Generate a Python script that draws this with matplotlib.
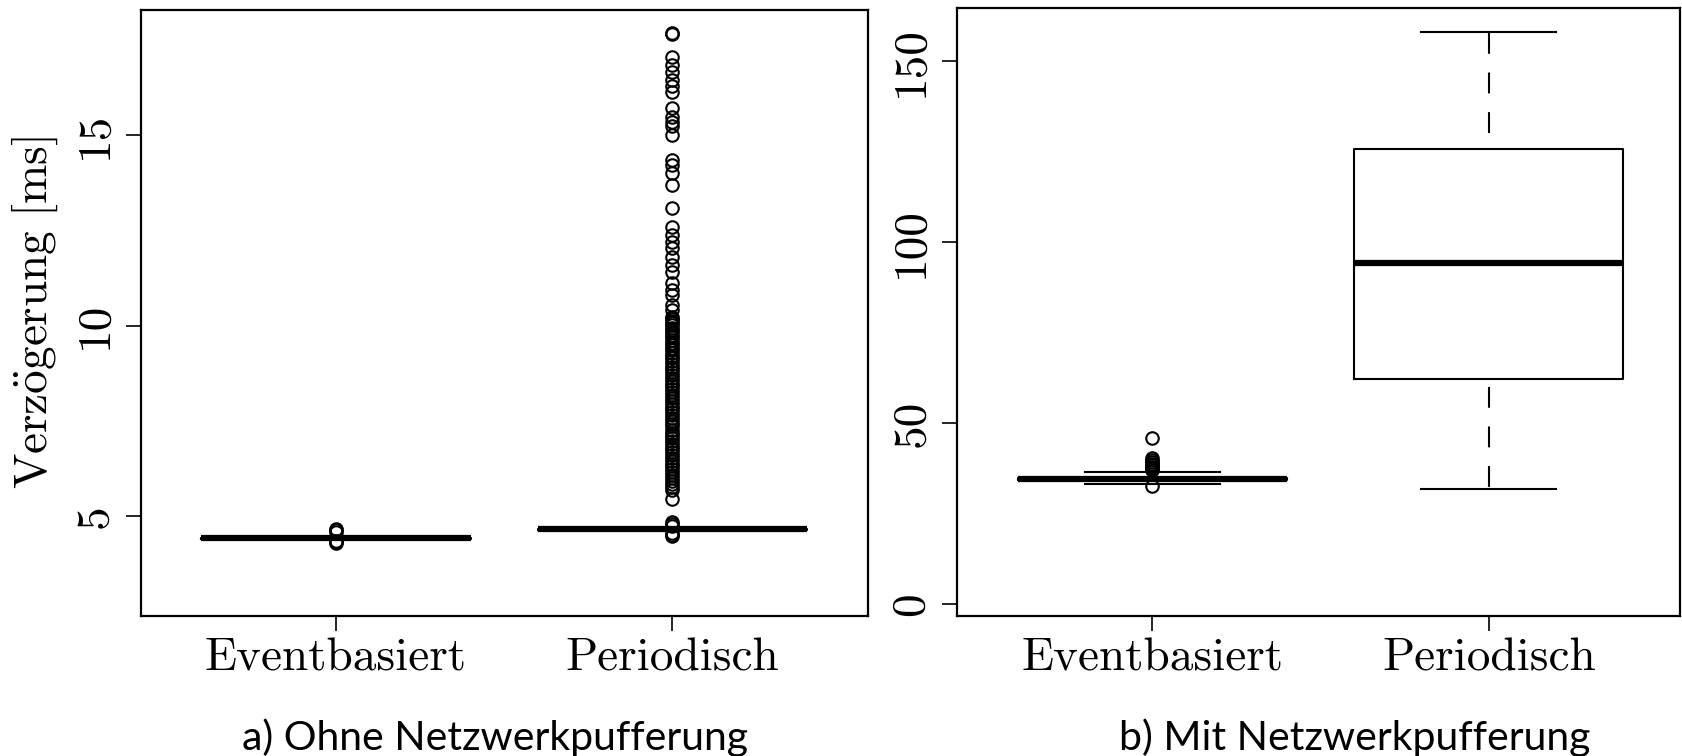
import matplotlib
matplotlib.use("Agg")
import matplotlib.pyplot as plt

plt.rcParams['font.family'] = ['cmr10', 'DejaVu Serif']
plt.rcParams['mathtext.fontset'] = 'cm'
plt.rcParams['axes.unicode_minus'] = False

#####################################

groups = ["Eventbasiert", "Periodisch"]

# a) Ohne Netzwerkpufferung  [ms]
a_med = [4.41, 4.65]
a_q1 = [4.40, 4.64]
a_q3 = [4.42, 4.66]
a_lo = [4.38, 4.62]
a_hi = [4.44, 4.68]
a_fliers_event = [4.66, 4.62, 4.57, 4.35, 4.32, 4.30]
a_fliers_period = [
    17.70, 17.66, 17.06, 16.84, 16.67, 16.45, 16.29, 16.14, 15.73, 15.49,
    15.35, 15.24, 15.00, 14.35, 14.22, 14.00, 13.69, 13.08, 12.60, 12.38,
    12.20, 12.03, 11.81, 11.59, 11.42, 11.11, 10.93, 10.80, 10.54, 10.41,
    10.23, 10.18, 10.12, 10.06, 10.01, 9.95, 9.88, 9.82, 9.76, 9.70,
    9.63, 9.55, 9.49, 9.42, 9.36, 9.28, 9.21, 9.14, 9.06, 8.98,
    8.92, 8.85, 8.77, 8.70, 8.62, 8.55, 8.47, 8.40, 8.33, 8.26,
    8.18, 8.10, 8.03, 7.95, 7.87, 7.80, 7.72, 7.64, 7.57, 7.50,
    7.42, 7.35, 7.27, 7.19, 7.12, 7.04, 6.97, 6.90, 6.82, 6.75,
    6.68, 6.60, 6.52, 6.45, 6.37, 6.30, 6.22, 6.15, 6.07, 6.00,
    5.92, 5.84, 5.77, 5.68, 5.44,
    4.83, 4.78, 4.74, 4.56, 4.51, 4.48,
]

# b) Mit Netzwerkpufferung  [ms]
b_med = [34.6, 94.3]
b_q1 = [34.3, 62.3]
b_q3 = [34.9, 125.7]
b_lo = [33.1, 31.8]
b_hi = [36.4, 158.1]
b_fliers_event = [45.8, 40.3, 39.8, 39.3, 38.8, 38.4, 38.0, 37.6, 37.2, 36.9, 32.6]
b_fliers_period = []

a_yticks = [5, 10, 15]
b_yticks = [0, 50, 100, 150]

captions = ["a) Ohne Netzwerkpufferung", "b) Mit Netzwerkpufferung"]

####################################

def make_stats(med, q1, q3, lo, hi, fliers):
    stats = []
    for i in range(len(med)):
        stats.append(dict(med=med[i], q1=q1[i], q3=q3[i],
                          whislo=lo[i], whishi=hi[i], fliers=fliers[i]))
    return stats

def draw_panel(ax, stats, yticks, ylim, xlim):
    parts = ax.bxp(stats, positions=[1, 2], widths=0.8, capwidths=0.4,
                   showfliers=True,
                   boxprops=dict(color="black", linewidth=1.5),
                   medianprops=dict(color="black", linewidth=4.5, solid_capstyle="butt"),
                   whiskerprops=dict(color="black", linewidth=1.5),
                   capprops=dict(color="black", linewidth=1.5),
                   flierprops=dict(marker="o", markerfacecolor="none", markeredgecolor="black",
                                   markersize=9, markeredgewidth=1.5, linestyle="none"))
    # R style dashed whiskers: lower one starts with a short gap, upper with a longer one
    for k, w in enumerate(parts["whiskers"]):
        if k % 2 == 0:
            w.set_linestyle((15.2, (10, 9)))
        else:
            w.set_linestyle((11.3, (10, 9)))
    ax.set_xlim(*xlim)
    ax.set_ylim(*ylim)
    ax.set_xticks([1, 2])
    ax.set_xticklabels(groups, fontsize=34)
    ax.set_yticks(yticks)
    ax.set_yticklabels([str(t) for t in yticks], fontsize=34, rotation=90, va="center")
    ax.tick_params(axis="both", length=11, width=1.2, direction="out")
    ax.tick_params(axis="x", pad=5)
    ax.tick_params(axis="y", pad=7)
    for s in ax.spines.values():
        s.set_linewidth(1.6)

W, H = 1682, 756
fig = plt.figure(figsize=(W / 100, H / 100), dpi=100)

ax1 = fig.add_axes([140.7 / W, (H - 616) / H, 727 / W, (616 - 9.7) / H])
ax2 = fig.add_axes([957 / W, (H - 616) / H, 723 / W, (616 - 8.3) / H])

stats_a = make_stats(a_med, a_q1, a_q3, a_lo, a_hi, [a_fliers_event, a_fliers_period])
stats_b = make_stats(b_med, b_q1, b_q3, b_lo, b_hi, [b_fliers_event, b_fliers_period])

draw_panel(ax1, stats_a, a_yticks, (2.37, 18.30), (0.42, 2.58))
draw_panel(ax2, stats_b, b_yticks, (-3.3, 164.6), (0.42, 2.568))

ax1.set_ylabel(r"$\mathrm{Verz\ddot{o}gerung\ [ms]}$", fontsize=34, labelpad=10)

fig.text(495 / W, 1 - 738 / H, captions[0], family="Lato", fontsize=29.5,
         ha="center", va="center")
fig.text(1355 / W, 1 - 738 / H, captions[1], family="Lato", fontsize=29.5,
         ha="center", va="center")

plt.savefig("out.png", dpi=100)
